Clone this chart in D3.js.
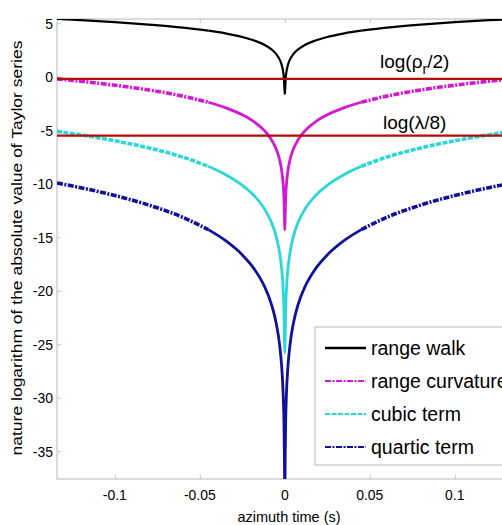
<!DOCTYPE html>
<html>
<head>
<meta charset="utf-8">
<script src="https://cdn.jsdelivr.net/npm/d3@7"></script>
<style>
  body { margin: 0; background: #fff; }
  text { font-family: "Liberation Sans", Arial, sans-serif; fill: #000; }
</style>
</head>
<body>
<div id="chart"></div>
<script>
// |t| samples (s), curves are symmetric about t = 0
var halfT      = [0.134, 0.12, 0.1, 0.08, 0.06, 0.045, 0.035, 0.025, 0.018, 0.012, 0.008, 0.005, 0.003, 0.0018, 0.001, 0.0005, 0.0002, 0];
var rangeWalk  = [5.40, 5.29, 5.11, 4.88, 4.60, 4.31, 4.06, 3.72, 3.39, 2.99, 2.58, 2.11, 1.60, 1.09, 0.50, -0.19, -1.11, -1.6];
var rangeCurv  = [-0.20, -0.42, -0.79, -1.23, -1.81, -2.38, -2.88, -3.56, -4.21, -5.03, -5.84, -6.78, -7.80, -8.82, -9.99, -11.38, -13.21, -14.3];
var cubicTerm  = [-5.10, -5.43, -5.98, -6.65, -7.51, -8.37, -9.13, -10.14, -11.12, -12.34, -13.55, -14.96, -16.50, -18.03, -19.79, -21.87, -24.62, -25.8];
var quarticTerm = [-9.93, -10.37, -11.10, -11.99, -13.14, -14.29, -15.30, -16.65, -17.96, -19.58, -21.20, -23.08, -25.13, -27.17, -29.52, -32.29, -35.96, -40];

var seriesNames = ["range walk", "range curvature", "cubic term", "quartic term"];
var xTicks = [-0.1, -0.05, 0, 0.05, 0.1];
var yTicks = [5, 0, -5, -10, -15, -20, -25, -30, -35];
var refLevels = [-0.2, -5.5]; // log(rho_r/2), log(lambda/8)

var W = 502, H = 525;
var padL = 57, padT = 19, padB = 479;

var x = d3.scaleLinear().domain([-0.134, 0.134]).range([padL, padL + 0.268 * 1700]);
var y = d3.scaleLinear().domain([-37.6, 5.4]).range([padB, padT]);

var svg = d3.select("#chart").append("svg")
    .attr("width", W)
    .attr("height", H);

svg.append("defs").append("clipPath")
    .attr("id", "clip")
    .append("rect")
    .attr("x", padL)
    .attr("y", padT)
    .attr("width", W - padL)
    .attr("height", padB - padT);

// axes box
var grey = "#c4c4c4";
svg.append("rect")
    .attr("x", padL).attr("y", padT)
    .attr("width", x(0.134) - padL).attr("height", padB - padT)
    .attr("fill", "none").attr("stroke", grey).attr("stroke-width", 1.2);

var xAxisB = d3.axisBottom(x).tickValues(xTicks).tickSize(-4).tickFormat("");
var xAxisT = d3.axisTop(x).tickValues(xTicks).tickSize(-4).tickFormat("");
var yAxisL = d3.axisLeft(y).tickValues(yTicks).tickSize(-4).tickFormat("");
[[xAxisB, "translate(0," + padB + ")"], [xAxisT, "translate(0," + padT + ")"], [yAxisL, "translate(" + padL + ",0)"]]
  .forEach(function (a) {
    var g = svg.append("g").attr("transform", a[1]).call(a[0]);
    g.select(".domain").remove();
    g.selectAll("text").remove();
    g.selectAll("line").attr("stroke", grey);
  });

// tick labels
svg.selectAll(".xlab").data(xTicks).enter().append("text")
    .attr("class", "xlab")
    .attr("transform", function (d) { return "translate(" + x(d) + ",500) scale(0.9,1)"; })
    .attr("text-anchor", "middle")
    .style("font-size", "15.5px")
    .text(function (d) { return d === 0 ? "0" : String(d); });

svg.selectAll(".ylab").data(yTicks).enter().append("text")
    .attr("class", "ylab")
    .attr("transform", function (d) { return "translate(53," + (y(d) + 5.5) + ") scale(0.9,1)"; })
    .attr("text-anchor", "end")
    .style("font-size", "15.5px")
    .text(function (d) { return String(d); });

svg.append("text")
    .attr("x", 289).attr("y", 522)
    .attr("text-anchor", "middle")
    .style("font-size", "14.5px")
    .text("azimuth time (s)");

svg.append("text")
    .attr("transform", "translate(22,248) rotate(-90) scale(1,0.85)")
    .attr("text-anchor", "middle")
    .style("font-size", "17.5px")
    .text("nature logarithm of the absolute value of Taylor series");

// curves
var styles = [
  { color: "#000000", dash: null,          wOut: 2.2, wIn: 2.2 },
  { color: "#d21ad2", dash: "6,1.5,2,1.5", wOut: 3.6, wIn: 2.8 },
  { color: "#2ad8d8", dash: "5,1.5",       wOut: 3.6, wIn: 2.8 },
  { color: "#10109a", dash: "6,1.5,2,1.5", wOut: 3.6, wIn: 2.8 }
];
var allSeries = [rangeWalk, rangeCurv, cubicTerm, quarticTerm];

var line = d3.line()
    .x(function (d) { return x(d[0]); })
    .y(function (d) { return y(d[1]); })
    .curve(d3.curveMonotoneX);

var plot = svg.append("g").attr("clip-path", "url(#clip)");

allSeries.forEach(function (vals, i) {
  var st = styles[i];
  var leftPts = halfT.map(function (t, k) { return [-t, vals[k]]; });
  var rightPts = halfT.map(function (t, k) { return [t, vals[k]]; }).reverse();
  var pts = leftPts.concat(rightPts.slice(1));
  var outerL = pts.filter(function (p) { return p[0] <= -0.045; });
  var outerR = pts.filter(function (p) { return p[0] >= 0.045; });
  var inner = pts.filter(function (p) { return Math.abs(p[0]) <= 0.045; });

  [outerL, outerR].forEach(function (seg) {
    plot.append("path")
        .datum(seg)
        .attr("d", line)
        .attr("fill", "none")
        .attr("stroke", st.color)
        .attr("stroke-width", st.wOut)
        .attr("stroke-dasharray", st.dash);
  });
  plot.append("path")
      .datum(inner)
      .attr("d", line)
      .attr("fill", "none")
      .attr("stroke", st.color)
      .attr("stroke-width", st.wIn)
      .attr("stroke-linejoin", "round");
});

// reference levels
plot.selectAll(".ref").data(refLevels).enter().append("line")
    .attr("class", "ref")
    .attr("x1", padL).attr("x2", W)
    .attr("y1", function (d) { return y(d); })
    .attr("y2", function (d) { return y(d); })
    .attr("stroke", "#b40a0a")
    .attr("stroke-width", 2.2);

var lab1 = svg.append("text")
    .attr("x", 380).attr("y", 68)
    .style("font-size", "19px");
lab1.append("tspan").text("log(\u03c1");
lab1.append("tspan").attr("dy", 6).style("font-size", "14px").text("r");
lab1.append("tspan").attr("dy", -6).text("/2)");

svg.append("text")
    .attr("x", 383).attr("y", 129)
    .style("font-size", "19px")
    .text("log(\u03bb/8)");

// legend
var lg = svg.append("g");
lg.append("rect")
    .attr("x", 315).attr("y", 327)
    .attr("width", 220).attr("height", 138)
    .attr("fill", "#fff")
    .attr("stroke", grey)
    .attr("stroke-width", 1.2);

var legY = d3.scalePoint().domain(seriesNames).range([348, 447]);
seriesNames.forEach(function (name, i) {
  var st = styles[i];
  lg.append("line")
      .attr("x1", 325).attr("x2", 366)
      .attr("y1", legY(name)).attr("y2", legY(name))
      .attr("stroke", st.color)
      .attr("stroke-width", i === 0 ? 2.4 : 2.2)
      .attr("stroke-dasharray", st.dash);
  lg.append("text")
      .attr("x", 371).attr("y", legY(name) + 6.5)
      .style("font-size", "19.5px")
      .text(name);
});
</script>
</body>
</html>
